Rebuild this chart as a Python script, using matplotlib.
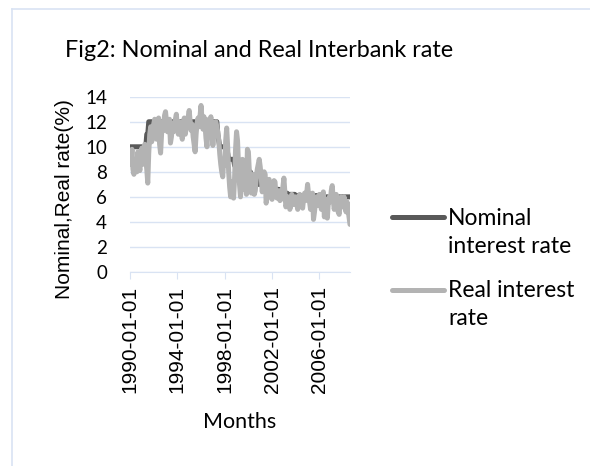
import matplotlib
matplotlib.use('Agg')
import matplotlib.pyplot as plt
from matplotlib.lines import Line2D
import pandas as pd

# monthly data 1990-01 .. 2008-08
nominal = (
    [10]*12 +
    [10, 10, 10, 10, 10, 11, 11, 12, 12, 12, 12, 12] +
    [12]*12*5 +
    [12, 12, 12, 12, 12, 11, 10.5, 10, 10, 10, 10, 10] +
    [10, 10, 9.5, 9.5, 9, 9, 9, 9, 9, 9, 8.5, 8.5] +
    [8.5, 8.5, 8.5, 8.5, 8.5, 8.2, 8, 8, 8, 8, 8, 8] +
    [8, 8, 8, 7.5, 7.5, 7.5, 7.5, 7.5, 7.5, 7, 7, 7] +
    [7, 7, 7, 7, 7, 7, 6.8, 6.8, 6.8, 6.8, 6.8, 6.8] +
    [6.8, 6.8, 6.6, 6.6, 6.6, 6.6, 6.6, 6.6, 6.5, 6.5, 6.5, 6.5] +
    [6.3, 6.3, 6.3, 6.3, 6.2, 6.2, 6.2, 6.2, 6.2, 6.2, 6.2, 6.2] +
    [6.1]*24 +
    [6]*24 +
    [6]*8
)

real = [
    9.5, 8.6, 9.8, 8.2, 7.8, 9.0, 8.4, 8.0, 9.6, 8.8, 8.1, 9.3,      # 1990
    9.9, 8.6, 9.4, 10.2, 9.0, 8.2, 7.1, 9.5, 11.0, 11.6, 10.4, 11.5,  # 1991
    11.8, 12.2, 11.4, 10.6, 11.9, 12.3, 10.2, 9.5, 11.0, 12.0, 11.3, 12.5,  # 1992
    12.8, 12.0, 11.2, 11.6, 12.2, 10.3, 10.8, 11.8, 11.2, 11.9, 12.2, 12.6,  # 1993
    11.5, 11.0, 12.0, 11.6, 11.2, 10.6, 11.8, 12.3, 11.0, 11.5, 12.1, 12.4,  # 1994
    12.9, 12.0, 11.3, 11.8, 10.8, 10.2, 9.6, 11.0, 11.9, 12.3, 11.6, 12.5,  # 1995
    13.3, 12.2, 11.4, 12.4, 11.8, 10.7, 10.0, 11.2, 12.2, 11.9, 12.4, 11.3,  # 1996
    10.1, 11.0, 11.9, 12.0, 11.6, 11.2, 10.5, 9.4, 8.6, 8.0, 7.6, 9.0,  # 1997
    8.5, 10.5, 11.5, 10.0, 8.0, 6.8, 6.0, 7.2, 6.1, 5.9, 7.5, 9.8,  # 1998
    11.2, 10.5, 8.5, 7.0, 6.0, 7.5, 9.0, 7.4, 6.6, 7.2, 6.2, 9.8,  # 1999
    9.6, 8.0, 6.8, 6.3, 7.2, 7.8, 6.2, 6.5, 7.5, 8.2, 8.6, 9.0,  # 2000
    8.4, 7.6, 6.4, 7.0, 8.0, 7.8, 5.5, 6.0, 7.2, 7.4, 6.8, 6.0,  # 2001
    5.8, 6.5, 7.3, 7.2, 6.0, 5.9, 6.3, 6.5, 5.7, 5.8, 6.2, 6.8,  # 2002
    7.5, 6.4, 5.2, 5.5, 6.0, 5.6, 5.0, 5.3, 6.2, 5.8, 5.4, 5.8,  # 2003
    6.0, 5.5, 5.0, 5.6, 6.2, 5.8, 5.4, 5.1, 5.9, 6.3, 5.7, 6.2,  # 2004
    7.0, 6.2, 5.6, 5.0, 5.8, 6.3, 4.2, 4.8, 5.6, 6.0, 5.3, 5.8,  # 2005
    6.2, 5.6, 5.0, 6.0, 6.4, 4.4, 5.2, 5.8, 4.3, 5.5, 6.0, 5.6,  # 2006
    6.5, 6.9, 5.8, 5.0, 5.5, 6.2, 5.4, 4.8, 4.6, 5.4, 6.0, 5.2,  # 2007
    5.5, 6.0, 5.2, 4.8, 5.6, 5.0, 4.4, 3.8,                      # 2008
]

months = pd.date_range('1990-01-01', periods=len(real), freq='MS')
month_labels = [d.strftime('%Y-%m-%d') for d in months]
tick_idx = list(range(0, len(real), 48))
x = list(range(len(real)))

W, H = 590, 466
grid_c = '#d9e3f3'
nom_c = '#595959'
real_c = '#b3b3b3'
font = 'Lato'
arial = 'Liberation Sans'

def fx(px):
    return px / W

def fy(py):
    return 1 - py / H

fig = plt.figure(figsize=(5.9, 4.66), dpi=100)

# chart area border (only top and left are in view)
fig.add_artist(Line2D([fx(12), 1.0], [fy(9), fy(9)], color=grid_c, lw=1.2))
fig.add_artist(Line2D([fx(12), fx(12)], [fy(9), 0.0], color=grid_c, lw=1.2))

ax = fig.add_axes([fx(130), fy(272), 220/W, (272-96.7)/H])

ax.plot(x, nominal, color=nom_c, lw=3.6, solid_capstyle='round', solid_joinstyle='round')
ax.plot(x, real, color=real_c, lw=3.6, solid_capstyle='round', solid_joinstyle='round')

ax.set_xlim(0, len(real)-1)
ax.set_ylim(0, 14)
ax.set_yticks(range(0, 15, 2))
ax.yaxis.grid(True, color=grid_c, lw=1)
ax.set_axisbelow(True)
for s in ['left', 'right', 'top']:
    ax.spines[s].set_visible(False)
ax.spines['bottom'].set_color(grid_c)
ax.tick_params(axis='y', length=0, pad=16.5, labelsize=13.5)
for t in ax.get_yticklabels():
    t.set_fontname(font)
ax.set_xticks(tick_idx)
ax.set_xticklabels([month_labels[i] for i in tick_idx], rotation=90,
                   fontname=arial, fontsize=15)
ax.tick_params(axis='x', length=5, color=grid_c, pad=5)

ax.set_xlabel('Months', fontname=font, fontsize=15.5)
ax.xaxis.set_label_coords(0.5, (272-422)/175.3)
ax.xaxis.label.set_va('center')
ax.set_ylabel('Nominal,Real rate(%)', fontname=arial, fontsize=15)
ax.yaxis.set_label_coords((65-130)/220, (272-199)/175.3)
ax.yaxis.label.set_va('center')

fig.text(fx(259), fy(56.7), 'Fig2: Nominal and Real Interbank rate', fontname=font,
         fontsize=16.8, ha='center', va='baseline')

# legend, placed like the original (text wraps onto a second line)
fig.add_artist(Line2D([fx(392), fx(444)], [fy(217), fy(217)], color=nom_c, lw=3.6,
                      solid_capstyle='round'))
fig.add_artist(Line2D([fx(392), fx(444)], [fy(290), fy(290)], color=real_c, lw=3.6,
                      solid_capstyle='round'))
leg_lines = [('Nominal', 225), ('interest rate', 253), ('Real interest', 297), ('rate', 325)]
for txt, base in leg_lines:
    fig.text(fx(448), fy(base), txt, fontname=font, fontsize=16.5, ha='left', va='baseline')

fig.savefig('out.png', dpi=100)
